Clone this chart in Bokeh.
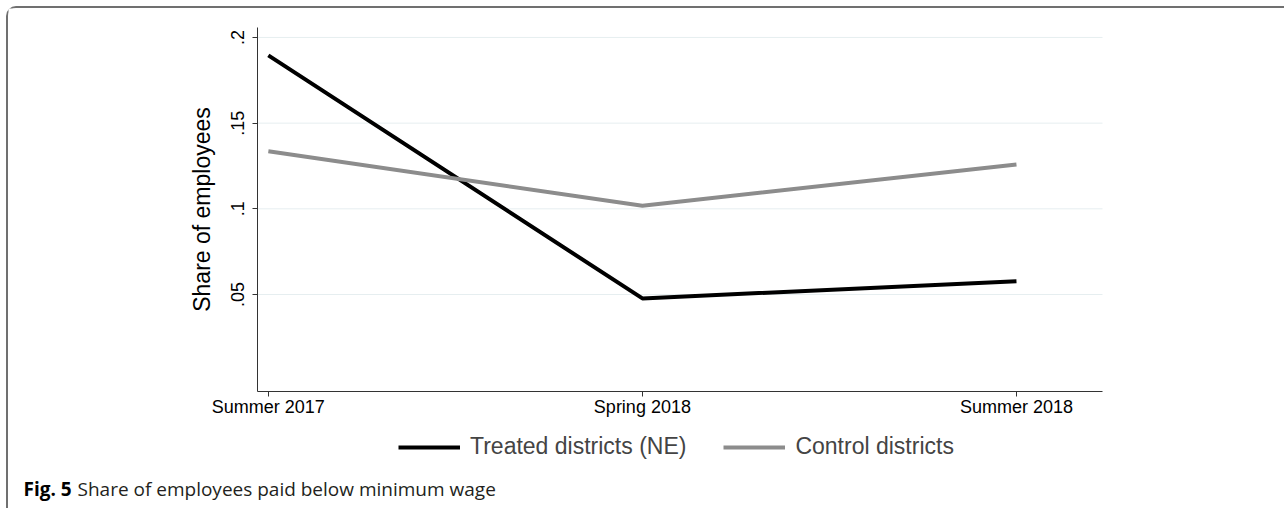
from bokeh.plotting import figure
from bokeh.models import Range1d, FixedTicker, Legend, LegendItem, Label
from bokeh.embed import file_html
from bokeh.resources import INLINE

# ---- data ----
periods = ["Summer 2017", "Spring 2018", "Summer 2018"]
period_pos = [0, 1, 2]
treated = [0.1895, 0.0477, 0.0578]
control = [0.1336, 0.1018, 0.1259]
y_ticks = [0.05, 0.1, 0.15, 0.2]
y_tick_labels = [".05", ".1", ".15", ".2"]
series_names = ["Treated districts (NE)", "Control districts"]
caption_bold = "Fig. 5"
caption_text = "Share of employees paid below minimum wage"
y_title = "Share of employees"

# axis extents (data units)
x_lo, x_hi = -0.029, 2.23
y_lo, y_hi = -0.0066, 0.2058

# ---- layout (canvas pixels) ----
W, H = 1278, 502
plot_left, plot_right = 249, 1094      # where the axes region sits in the canvas
plot_top, plot_bottom = 19, 383

FONT = "Liberation Sans"

# extend the data ranges so that the whole canvas is the frame (no clipping of legend/caption)
xs = (x_hi - x_lo) / (plot_right - plot_left)
ys = (y_hi - y_lo) / (plot_bottom - plot_top)
xr = Range1d(x_lo - plot_left * xs, x_hi + (W - plot_right) * xs)
yr = Range1d(y_lo - (H - plot_bottom) * ys, y_hi + plot_top * ys)

p = figure(width=W, height=H, output_backend="svg", toolbar_location=None,
           x_range=xr, y_range=yr, min_border=0)
p.styles = {"margin-left": "6px", "margin-top": "6px",
            "border-top": "2px solid #707070", "border-left": "2px solid #707070",
            "border-top-left-radius": "10px"}
p.outline_line_color = None
p.background_fill_color = "white"
p.border_fill_color = "white"
p.xgrid.visible = False
p.ygrid.visible = False

# horizontal grid lines across the plot region
p.segment(x0=[x_lo] * len(y_ticks), x1=[x_hi] * len(y_ticks), y0=y_ticks, y1=y_ticks,
          line_color="#e6eef0", line_width=1)

r1 = p.line(period_pos, treated, line_color="black", line_width=4)
r2 = p.line(period_pos, control, line_color="#8c8c8c", line_width=4)

# axes
p.xaxis.fixed_location = y_lo
p.xaxis.bounds = (x_lo, x_hi)
p.yaxis.fixed_location = x_lo
p.yaxis.bounds = (y_lo, y_hi)
p.xaxis.ticker = FixedTicker(ticks=period_pos)
p.xaxis.major_label_overrides = {pos: lab for pos, lab in zip(period_pos, periods)}
p.yaxis.ticker = FixedTicker(ticks=y_ticks)
p.yaxis.major_label_overrides = {t: l for t, l in zip(y_ticks, y_tick_labels)}
p.yaxis.major_label_orientation = "parallel"
p.yaxis.axis_label = y_title

for ax in (p.xaxis, p.yaxis):
    ax.axis_line_color = "#333333"
    ax.axis_line_width = 1
    ax.major_tick_line_color = "#333333"
    ax.major_tick_out = 5
    ax.major_tick_in = 0
    ax.minor_tick_line_color = None
    ax.major_label_text_font = FONT
    ax.major_label_text_font_size = "18px"
    ax.major_label_text_color = "black"
    ax.axis_label_text_font = FONT
    ax.axis_label_text_font_size = "23px"
    ax.axis_label_text_font_style = "normal"
    ax.axis_label_text_color = "black"
p.yaxis.major_label_standoff = 8
p.xaxis.major_label_standoff = 0
p.yaxis.axis_label_standoff = 14

legend = Legend(items=[LegendItem(label=series_names[0], renderers=[r1]),
                       LegendItem(label=series_names[1], renderers=[r2])],
                orientation="horizontal", location=(390, 50),
                glyph_width=62, glyph_height=24, label_height=24,
                label_standoff=10, spacing=37, padding=0, margin=0,
                border_line_color=None, background_fill_alpha=0,
                label_text_font=FONT, label_text_font_size="23px")
p.add_layout(legend)

cap1 = Label(x=15, y=22, x_units="screen", y_units="screen", text=caption_bold,
             text_font="Open Sans", text_font_style="bold", text_font_size="19px",
             text_baseline="middle", text_color="black")
cap2 = Label(x=69, y=22, x_units="screen", y_units="screen", text=caption_text,
             text_font="Open Sans", text_font_size="19px",
             text_baseline="middle", text_color="#231f20")
p.add_layout(cap1)
p.add_layout(cap2)

open("out.html", "w").write(file_html(p, INLINE))
